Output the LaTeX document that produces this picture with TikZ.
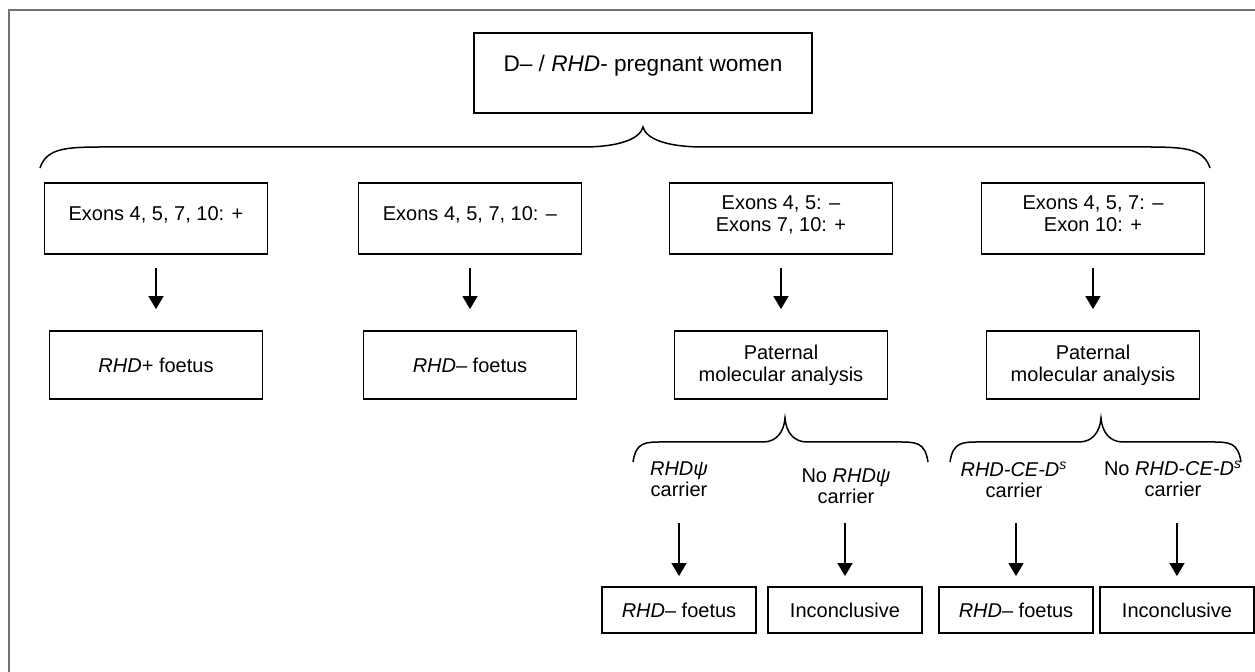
\documentclass[tikz,border=0pt]{standalone}
\usepackage{fontspec}
\setmainfont{Liberation Sans}
\usepackage{tikz}
\usetikzlibrary{arrows.meta}

\begin{document}
\begin{tikzpicture}[x=0.5pt,y=0.5pt,
        >={Triangle[length=6.5pt,width=7.5pt]},
        box/.style={draw,line width=0.9pt,inner sep=0pt,align=center,
            font=\fontsize{10pt}{11pt}\selectfont},
        exonbox/.style={box,minimum width=111.5pt,minimum height=35.5pt,text depth=4.5pt},
        resbox/.style={box,minimum width=106.5pt,minimum height=34pt},
        endbox/.style={box,minimum width=77pt,minimum height=23pt},
        carlabel/.style={inner sep=0pt,align=center,text height=8pt,text depth=1pt,
            font=\fontsize{10pt}{10.5pt}\selectfont},
        arr/.style={->,line width=0.85pt},
        bracket/.style={line width=0.75pt}]

        % fix the size of the page
        \useasboundingbox (0,0) rectangle (1255,672);

        % draw the frame
        \draw[black!55,line width=0.7pt] (9,0) -- (9,662) -- (1255,662);

        % top box
        \node[box,minimum width=169pt,minimum height=40pt,text depth=9.5pt,
              font=\fontsize{11.3pt}{13pt}\selectfont] (women) at (643,599)
              {D– / \textit{RHD}- pregnant women};

        % draw the braces
        \foreach \xl/\xr/\xt/\ye/\yh/\yt/\cw/\tw in {
            40/1210/643/504/525/545/70/60,
            633/928/785/210/230/254/30/22,
            950/1241/1101/210/230/254/30/22}
                \draw[bracket] (\xl,\ye) .. controls ({\xl+0.1*\cw},\yh) and ({\xl+0.4*\cw},\yh) .. ({\xl+\cw},\yh)
                    -- ({\xt-\tw},\yh) .. controls ({\xt-0.4*\tw},\yh) and ({\xt-0.05*\tw},{\yh+0.4*(\yt-\yh)}) .. (\xt,\yt)
                    .. controls ({\xt+0.05*\tw},{\yh+0.4*(\yt-\yh)}) and ({\xt+0.4*\tw},\yh) .. ({\xt+\tw},\yh)
                    -- ({\xr-\cw},\yh) .. controls ({\xr-0.4*\cw},\yh) and ({\xr-0.1*\cw},\yh) .. (\xr,\ye);

        % exon results
        \foreach \n/\x/\txt in {
            exA/156/{Exons 4, 5, 7, 10: +},
            exB/470/{Exons 4, 5, 7, 10: –},
            exC/781/{Exons 4, 5: –\\Exons 7, 10: +},
            exD/1093/{Exons 4, 5, 7: –\\Exon 10: +}}
                \node[exonbox] (\n) at (\x,453.5) {\txt};

        % what follows from them
        \foreach \n/\x/\txt in {
            resA/156/{\textit{RHD}+ foetus},
            resB/470/{\textit{RHD}– foetus},
            patC/781/{Paternal\\molecular analysis},
            patD/1093/{Paternal\\molecular analysis}}
                \node[resbox] (\n) at (\x,307) {\txt};

        \foreach \a/\b in {exA/resA,exB/resB,exC/patC,exD/patD}
                \draw[arr,shorten <=6.5pt,shorten >=10.5pt] (\a) -- (\b);

        % paternal carrier status
        \node[carlabel] (carC1) at (679,182) {\textit{RHDψ}\\carrier};
        \node[carlabel] (carC2) at (846,175) {No \textit{RHDψ}\\carrier};
        \node[carlabel] (carD1) at (1014,181) {\textit{RHD-CE-D\textsuperscript{s}}\\carrier};
        \node[carlabel] (carD2) at (1173,182) {No \textit{RHD-CE-D\textsuperscript{s}}\\carrier};

        \foreach \n/\x/\txt in {
            outC1/679/{\textit{RHD}– foetus},
            outC2/845/Inconclusive,
            outD1/1016/{\textit{RHD}– foetus},
            outD2/1177/Inconclusive}
                \node[endbox] (\n) at (\x,62) {\txt};

        \foreach \a/\b/\s in {carC1/outC1/11.75pt,carC2/outC2/8.25pt,
                              carD1/outD1/11.25pt,carD2/outD2/11.75pt}
                \draw[arr,shorten <=\s,shorten >=5pt] (\a.south -| \b.north) -- (\b.north);

\end{tikzpicture}
\end{document}
